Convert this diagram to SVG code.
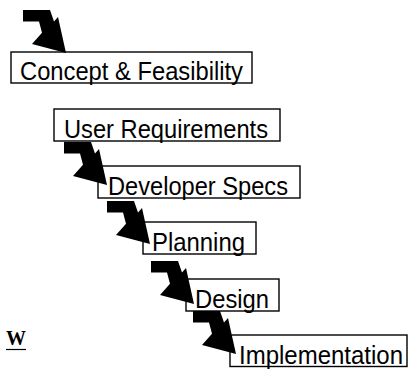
<svg xmlns="http://www.w3.org/2000/svg" width="409" height="371" viewBox="0 0 409 371">
<style>
.box{fill:none;stroke:#000;stroke-width:1.4}
.lbl{font-family:"Liberation Sans",Arial,sans-serif;font-size:25.5px;fill:#000}
.arr{fill:#000;stroke:none}
.w{font-family:"Liberation Serif","Times New Roman",serif;font-size:20px;font-weight:bold;fill:#000}
</style>
<defs>
<polygon id="bent" points="0,0 27,0 31,11.6 35,7 43,43 9,34 19,22.7 16,11.5 0,11.5"/>
</defs>
<rect width="409" height="371" fill="#fff"/>
<g id="concept"><rect class="box" x="11" y="52" width="241" height="31"/><text class="lbl" x="20" y="80" textLength="223" lengthAdjust="spacingAndGlyphs">Concept &amp; Feasibility</text></g>
<g id="user-req"><rect class="box" x="54" y="109" width="226" height="32"/><text class="lbl" x="64" y="138" textLength="204" lengthAdjust="spacingAndGlyphs">User Requirements</text></g>
<g id="dev-specs"><rect class="box" x="98" y="166" width="202" height="32"/><text class="lbl" x="108" y="195" textLength="180" lengthAdjust="spacingAndGlyphs">Developer Specs</text></g>
<g id="planning"><rect class="box" x="143" y="222" width="113" height="32"/><text class="lbl" x="152" y="251" textLength="93" lengthAdjust="spacingAndGlyphs">Planning</text></g>
<g id="design"><rect class="box" x="186" y="279" width="93" height="32"/><text class="lbl" x="195" y="308" textLength="74" lengthAdjust="spacingAndGlyphs">Design</text></g>
<g id="implementation"><rect class="box" x="230" y="335" width="177" height="31.5"/><text class="lbl" x="239" y="363.5" textLength="164" lengthAdjust="spacingAndGlyphs">Implementation</text></g>
<g id="connectors" class="arr">
<use href="#bent" x="23" y="10"/>
<use href="#bent" x="64" y="142"/>
<use href="#bent" x="107" y="201"/>
<use href="#bent" x="151" y="261"/>
<use href="#bent" x="193" y="311"/>
</g>
<g id="w-label"><text class="w" x="6" y="345">W</text><line x1="6" y1="349.5" x2="26" y2="349.5" stroke="#000" stroke-width="1.2"/></g>
</svg>
